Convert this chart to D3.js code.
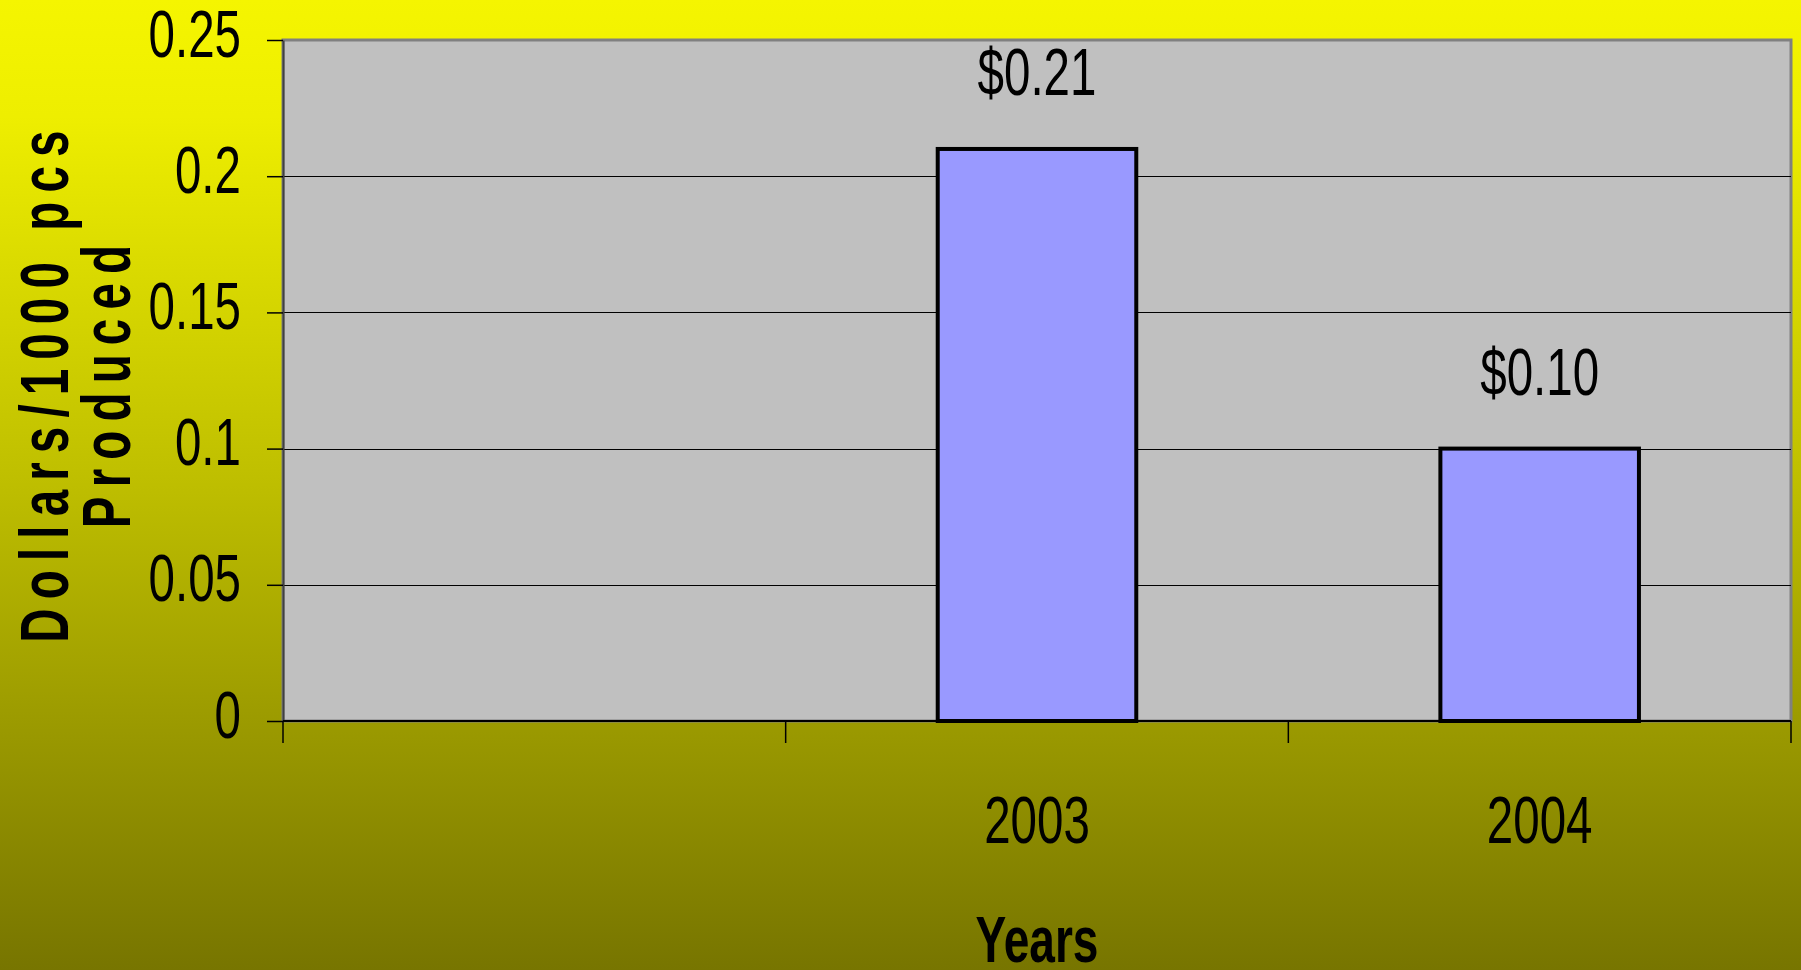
<!DOCTYPE html>
<html>
<head>
<meta charset="utf-8">
<script src="https://cdn.jsdelivr.net/npm/d3@7/dist/d3.min.js"></script>
<style>
  html, body { margin: 0; padding: 0; overflow: hidden; }
  svg { display: block; }
  text { font-family: "Liberation Sans", Arial, sans-serif; fill: #000; }
</style>
</head>
<body>
<script>
// ---- data ----
const categories = ["", "2003", "2004"];
const values = [null, 0.21, 0.10];
const yTicks = [0, 0.05, 0.1, 0.15, 0.2, 0.25];
const yTickLabels = ["0", "0.05", "0.1", "0.15", "0.2", "0.25"];
const yTitleLines = ["Dollars/1000 pcs", "Produced"];
const xTitle = "Years";

// ---- layout ----
const W = 1801, H = 970;
const L = 283, R = 1791, T = 40, B = 721;
const SX = 0.72; // horizontal condensing of the chart font

const svg = d3.select("body").append("svg").attr("width", W).attr("height", H);

const defs = svg.append("defs");
const grad = defs.append("linearGradient").attr("id", "bg").attr("x1", 0).attr("y1", 0).attr("x2", 0).attr("y2", 1);
[[0, "#F5F500"], [0.12, "#EEEE00"], [0.5, "#BEBE00"], [1, "#777500"]].forEach(([o, c]) =>
  grad.append("stop").attr("offset", o).attr("stop-color", c));

svg.append("rect").attr("width", W).attr("height", H).attr("fill", "url(#bg)");

const x = d3.scaleBand().domain(categories).range([L, R]).padding(0);
const y = d3.scaleLinear().domain([0, 0.25]).range([B, T]);

// plot area
svg.append("rect").attr("x", L).attr("y", T).attr("width", R - L).attr("height", B - T)
  .attr("fill", "#C0C0C0").attr("stroke", "#808080").attr("stroke-width", 3);

// gridlines
svg.append("g").selectAll("line").data(yTicks.filter(d => d > 0 && d < 0.25)).join("line")
  .attr("x1", L).attr("x2", R).attr("y1", d => Math.round(y(d)) + 0.5).attr("y2", d => Math.round(y(d)) + 0.5)
  .attr("stroke", "#000").attr("stroke-width", 1);

// y axis
const yAxis = svg.append("g").attr("transform", `translate(${L},0)`)
  .call(d3.axisLeft(y).tickValues(yTicks).tickSize(16).tickSizeOuter(0)
    .tickFormat((d, i) => yTickLabels[i]));
yAxis.select(".domain").attr("stroke", "#404040").attr("stroke-width", 2);
yAxis.selectAll(".tick line").attr("stroke", "#000").attr("stroke-width", 1.5);
yAxis.selectAll(".tick text")
  .attr("x", null).attr("dy", null)
  .attr("transform", `translate(${241 - L},16) scale(${SX},1)`)
  .attr("text-anchor", "end")
  .style("font-size", "66px")
  .style("font-family", '"Liberation Sans", Arial, sans-serif')
  .attr("fill", "#000");

// bars
const barW = x.bandwidth() * 0.395;
const data = categories.map((c, i) => ({ c, v: values[i] })).filter(d => d.v != null);
svg.append("g").selectAll("rect").data(data).join("rect")
  .attr("x", d => x(d.c) + x.bandwidth() / 2 - barW / 2)
  .attr("y", d => y(d.v))
  .attr("width", barW)
  .attr("height", d => y(0) - y(d.v))
  .attr("fill", "#9999FF").attr("stroke", "#000").attr("stroke-width", 4);

// value labels
const fmt = d3.format("$.2f");
svg.append("g").selectAll("text").data(data).join("text")
  .attr("transform", d => `translate(${x(d.c) + x.bandwidth() / 2},${y(d.v) - 54}) scale(${SX},1)`)
  .attr("text-anchor", "middle")
  .style("font-size", "66px")
  .text(d => fmt(d.v));

// x axis baseline
svg.append("line").attr("x1", L).attr("x2", R).attr("y1", B).attr("y2", B)
  .attr("stroke", "#000").attr("stroke-width", 2);

// x axis boundary ticks
const edges = categories.map(c => x(c)).concat([x.range()[1]]);
svg.append("g").selectAll("line").data(edges).join("line")
  .attr("x1", d => d).attr("x2", d => d).attr("y1", B).attr("y2", B + 22)
  .attr("stroke", "#000").attr("stroke-width", 1.5);

// x axis labels
const xAxis = svg.append("g").attr("transform", `translate(0,${B})`)
  .call(d3.axisBottom(x).tickSize(0).tickSizeOuter(0));
xAxis.select(".domain").remove();
xAxis.selectAll(".tick text")
  .attr("y", null).attr("dy", null)
  .attr("transform", `translate(0,${843 - B}) scale(${SX},1)`)
  .attr("text-anchor", "middle")
  .style("font-size", "66px")
  .style("font-family", '"Liberation Sans", Arial, sans-serif')
  .attr("fill", "#000");

// x title
svg.append("text")
  .attr("transform", `translate(${(L + R) / 2},962) scale(${SX},1)`)
  .attr("text-anchor", "middle")
  .style("font-size", "64px").style("font-weight", "bold")
  .text(xTitle);

// y title
const yTitleX = [68, 130];
svg.append("g").selectAll("text").data(yTitleLines).join("text")
  .attr("transform", (d, i) => `translate(${yTitleX[i]},382) rotate(-90) scale(0.7,1)`)
  .attr("text-anchor", "middle")
  .style("font-size", "68px").style("font-weight", "bold")
  .style("letter-spacing", "13px")
  .text(d => d);
</script>
</body>
</html>
